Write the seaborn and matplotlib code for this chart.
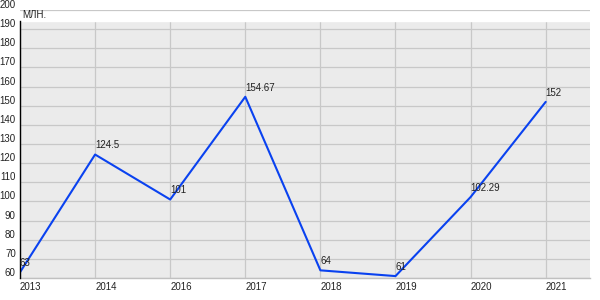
import matplotlib
matplotlib.use("Agg")
import matplotlib.pyplot as plt
import seaborn as sns
import pandas as pd

years = ["2013", "2014", "2016", "2017", "2018", "2019", "2020", "2021"]
values = [63, 124.5, 101, 154.67, 64, 61, 102.29, 152]
labels = ["63", "124.5", "101", "154.67", "64", "61", "102.29", "152"]
yticks = list(range(60, 201, 10))
unit = "МЛН."

sns.set_theme(style="white")
plt.rcParams["font.family"] = ["Liberation Sans", "DejaVu Sans"]

df = pd.DataFrame({"pos": range(len(years)), "value": values})

fig = plt.figure(figsize=(6, 3), dpi=100)
ax = fig.add_axes([20 / 600, 22 / 300, 570 / 600, 268 / 300])
ax.set_facecolor("#ebebeb")

sns.lineplot(data=df, x="pos", y="value", ax=ax, color="#0a42f0", linewidth=1.5, zorder=5)

ax.set_xlim(0, 7.59)
ax.set_ylim(60, 200)
ax.axhspan(194.5, 200, color="white", zorder=3)
ax.axhline(200, color="#c8c8c8", linewidth=0.9, zorder=4)
ax.set_xticks(range(len(years)))
ax.set_xticklabels(years, ha="left", fontsize=7, color="#222222")
ax.set_yticks(yticks)
ax.set_yticklabels([str(t) for t in yticks], va="bottom", fontsize=7, color="#222222")
ax.grid(True, color="#c8c8c8", linewidth=0.9)
ax.set_axisbelow(False)
for gl in ax.get_xgridlines() + ax.get_ygridlines():
    gl.set_zorder(2)
ax.tick_params(axis="y", length=4, width=0.8, color="black", pad=-1, direction="out")
ax.tick_params(axis="x", length=0, pad=3)
ax.set_xlabel("")
ax.set_ylabel("")

for s in ["top", "right"]:
    ax.spines[s].set_visible(False)
ax.spines["left"].set_color("black")
ax.spines["left"].set_linewidth(1.0)
ax.spines["left"].set_bounds(60, 194.5)
ax.spines["left"].set_zorder(6)
ax.spines["bottom"].set_color("#c0c0c0")
ax.spines["bottom"].set_linewidth(1.0)

for i, (v, lab) in enumerate(zip(values, labels)):
    ax.annotate(lab, (i, v), xytext=(0, 3), textcoords="offset points",
                ha="left", va="bottom", fontsize=7, color="#222222", zorder=7)

ax.text(0.03, 197.2, unit, ha="left", va="center", fontsize=7, color="#222222", zorder=7)

fig.savefig("out.png", dpi=100)
